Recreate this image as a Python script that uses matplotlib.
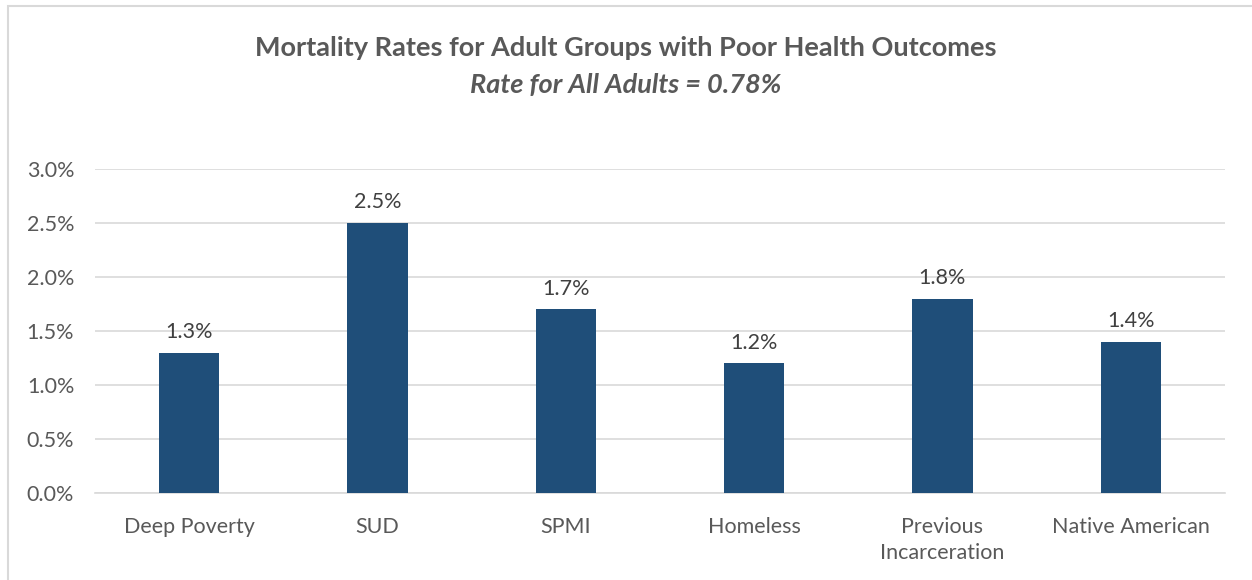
import matplotlib.pyplot as plt
import matplotlib.ticker as mtick
from matplotlib.patches import Rectangle
import numpy as np

categories = ['Deep Poverty', 'SUD', 'SPMI', 'Homeless', 'Previous\nIncarceration', 'Native American']
rates = [1.3, 2.5, 1.7, 1.2, 1.8, 1.4]
labels = ['1.3%', '2.5%', '1.7%', '1.2%', '1.8%', '1.4%']

plt.rcParams['font.family'] = ['Lato', 'DejaVu Sans']
grey = '#595959'

fig = plt.figure(figsize=(12.52, 5.8), dpi=100)
ax = fig.add_axes([0.0759, 0.15, 0.9025, 0.5586])

x = np.arange(len(categories))
ax.bar(x, rates, width=0.32, color='#1F4E79', zorder=3)
for xi, v, lab in zip(x, rates, labels):
    ax.text(xi, v + 0.1, lab, ha='center', va='bottom', fontsize=15.5, color='#404040')

ax.set_xlim(-0.5, len(categories) - 0.5)
ax.set_ylim(0, 3.0)
ax.set_yticks(np.arange(0, 3.01, 0.5))
ax.yaxis.set_major_formatter(mtick.FuncFormatter(lambda v, p: f'{v:.1f}%'))
ax.set_xticks(x)
ax.set_xticklabels(categories, fontsize=15.5, color=grey, linespacing=1.4)
ax.tick_params(axis='y', labelsize=15.5, labelcolor=grey, length=0, pad=15)
ax.tick_params(axis='x', length=0, pad=17)
ax.grid(axis='y', color='#D9D9D9', linewidth=1.2, zorder=0)
for s in ['top', 'right', 'left']:
    ax.spines[s].set_visible(False)
ax.spines['bottom'].set_color('#D9D9D9')
ax.spines['bottom'].set_linewidth(1.2)

fig.text(0.5, 0.917, 'Mortality Rates for Adult Groups with Poor Health Outcomes',
         ha='center', va='center', fontsize=19.5, fontweight='bold', color=grey)
fig.text(0.5, 0.853, 'Rate for All Adults = 0.78%',
         ha='center', va='center', fontsize=19.5, fontweight='bold', style='italic', color=grey)

fig.patches.append(Rectangle((0.006, -0.01), 1.0, 1.0, transform=fig.transFigure,
                             fill=False, edgecolor='#D9D9D9', linewidth=1.5))

plt.savefig('out.png', dpi=100)
